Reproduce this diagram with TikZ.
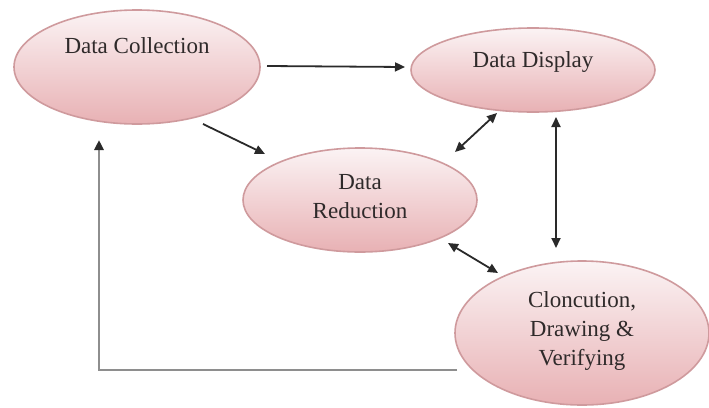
\documentclass[tikz,border=0pt]{standalone}
\usepackage{fontspec}
\setmainfont{Liberation Serif}
\usetikzlibrary{shapes.geometric,arrows.meta}
\definecolor{ebord}{HTML}{CF9A9D}
\definecolor{etop}{HTML}{FBF3F4}
\definecolor{ebot}{HTML}{E8B1B4}
\definecolor{txt}{HTML}{2F2A2A}
\definecolor{arr}{HTML}{2A2A2A}
\definecolor{feed}{HTML}{8E8E8E}
\tikzset{
  bubble/.style={ellipse, draw=ebord, line width=1.6pt, top color=etop, bottom color=ebot, inner sep=0pt},
  lbl/.style={text=txt, font=\fontsize{23}{29}\selectfont, align=center, inner sep=0pt},
  conn/.style={draw=arr, line width=1.8pt, -{Triangle[length=10pt,width=9pt]}},
  biconn/.style={draw=arr, line width=1.8pt, {Triangle[length=10pt,width=9pt]}-{Triangle[length=10pt,width=9pt]}},
  feedconn/.style={draw=feed, line width=2.6pt, -{Triangle[length=10pt,width=9pt,color=arr]}}
}
\begin{document}
\begin{tikzpicture}[x=1pt,y=-1pt]
\useasboundingbox (0,0) rectangle (709,407);
\clip (0,0) rectangle (709,407);
\fill[white] (0,0) rectangle (709,407);
\node[bubble, minimum width=246pt, minimum height=114pt] (dc) at (137,67) {};
\node[bubble, minimum width=244pt, minimum height=84pt] (dd) at (533,70) {};
\node[bubble, minimum width=234pt, minimum height=104pt] (dr) at (360,200) {};
\node[bubble, minimum width=254pt, minimum height=144pt] (co) at (582,333) {};
\node[lbl] (tdc) at (137,46) {Data Collection};
\node[lbl] (tdd) at (533,62) {Data Display};
\node[lbl] (tdr) at (360,197) {Data\\Reduction};
\node[lbl] (tco) at (582,331) {Cloncution,\\Drawing \&\\Verifying};
\coordinate (a1s) at (267,66);
\coordinate (a1e) at (405,67);
\coordinate (a2s) at (203,124);
\coordinate (a2e) at (265,154);
\coordinate (a3s) at (455,152);
\coordinate (a3e) at (497,113);
\coordinate (a4s) at (556,117);
\coordinate (a4e) at (556,248);
\coordinate (a5s) at (448,243);
\coordinate (a5e) at (498,273);
\coordinate (a6s) at (457,370);
\coordinate (a6c) at (99,370);
\coordinate (a6e) at (99,140);
\draw[conn] (a1s) -- (a1e);
\draw[conn] (a2s) -- (a2e);
\draw[biconn] (a3s) -- (a3e);
\draw[biconn] (a4s) -- (a4e);
\draw[biconn] (a5s) -- (a5e);
\draw[feedconn] (a6s) -- (a6c) -- (a6e);
\end{tikzpicture}
\end{document}
